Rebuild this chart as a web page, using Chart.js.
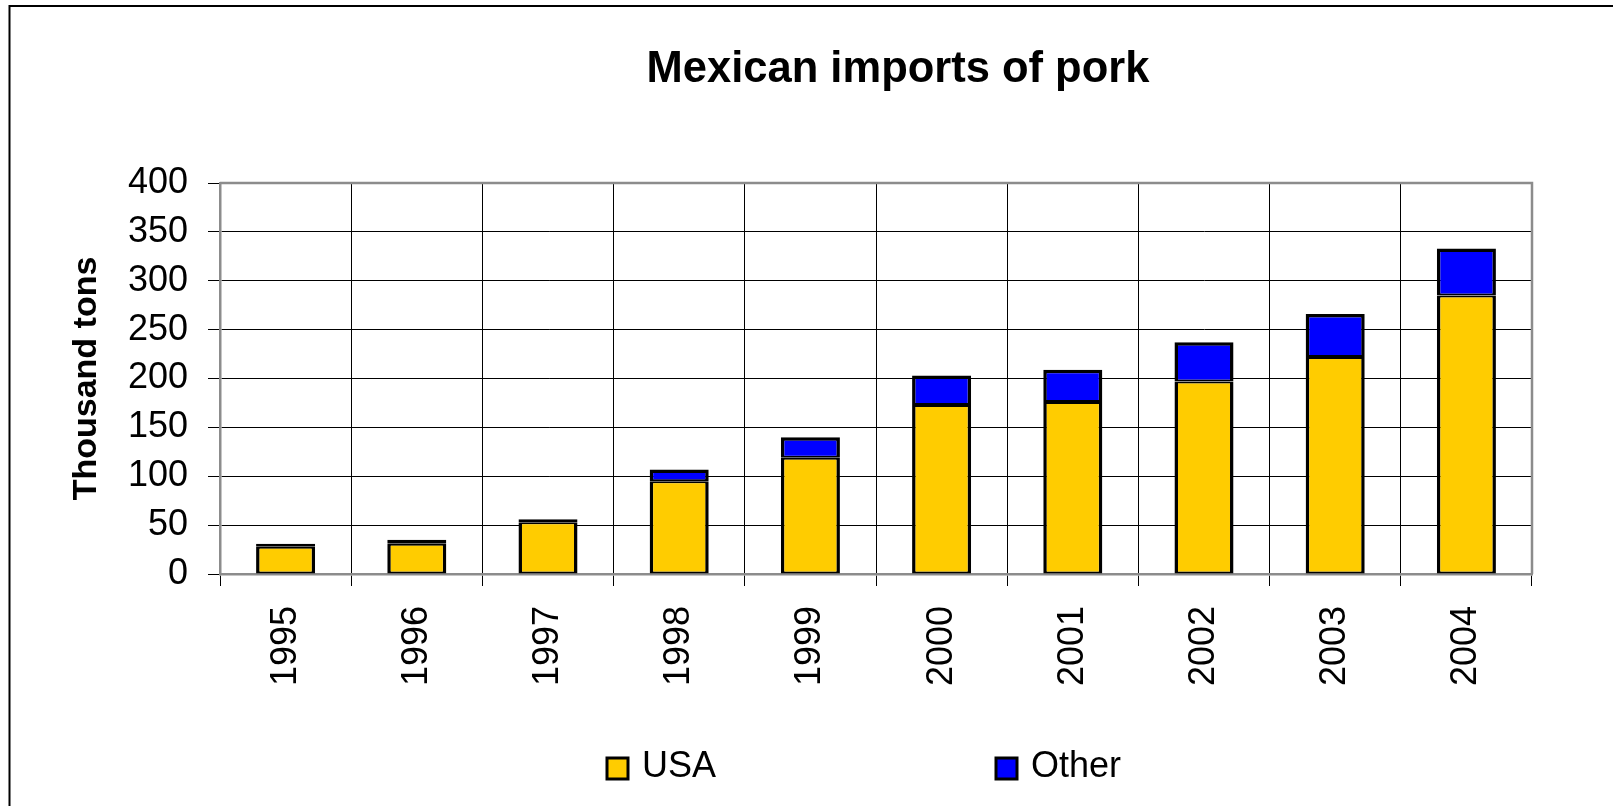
<!DOCTYPE html>
<html>
<head>
<meta charset="utf-8">
<script src="https://cdn.jsdelivr.net/npm/chart.js@4.4.1/dist/chart.umd.min.js"></script>
<style>
  html, body { margin: 0; padding: 0; background: #ffffff; }
  #wrap { width: 1613px; height: 806px; position: relative; }
  canvas { display: block; }
</style>
</head>
<body>
<div id="wrap"><canvas id="c" width="1613" height="806"></canvas></div>
<script>
// ---- data ----
const chartTitle = "Mexican imports of pork";
const yAxisTitle = "Thousand tons";
const years = ["1995", "1996", "1997", "1998", "1999", "2000", "2001", "2002", "2003", "2004"];
const seriesNames = ["USA", "Other"];
const usaValues   = [28, 31, 53, 95, 119, 173, 176, 197, 222, 285];
const otherValues = [3, 4, 3, 12, 21, 30, 33, 40, 44, 48];
const yTicks = [0, 50, 100, 150, 200, 250, 300, 350, 400];

const FONT = "'Liberation Sans', Arial, Helvetica, sans-serif";

const decorPlugin = {
  id: 'decor',
  beforeDraw(chart) {
    const ctx = chart.ctx;
    ctx.save();
    ctx.fillStyle = '#ffffff';
    ctx.fillRect(0, 0, chart.width, chart.height);
    ctx.restore();
  },
  afterDraw(chart) {
    const ctx = chart.ctx;
    const a = chart.chartArea;
    ctx.save();
    // outer page frame (top & left)
    ctx.strokeStyle = '#000000';
    ctx.lineWidth = 2;
    ctx.beginPath();
    ctx.moveTo(9.5, chart.height);
    ctx.lineTo(9.5, 6);
    ctx.lineTo(chart.width, 6);
    ctx.stroke();
    // plot-area frame top & right (gray)
    ctx.strokeStyle = '#8c8c8c';
    ctx.lineWidth = 2.5;
    ctx.beginPath();
    ctx.moveTo(a.left, a.top);
    ctx.lineTo(a.right, a.top);
    ctx.lineTo(a.right, a.bottom);
    ctx.stroke();
    // title
    ctx.fillStyle = '#000000';
    ctx.font = "bold 43.5px " + FONT;
    ctx.textAlign = 'center';
    ctx.textBaseline = 'alphabetic';
    ctx.fillText(chartTitle, 898, 82);
    // legend
    const legendX = [607, 996];
    ctx.font = "36px " + FONT;
    ctx.textAlign = 'left';
    chart.data.datasets.forEach((ds, i) => {
      const bx = legendX[i], by = 758;
      ctx.fillStyle = ds.backgroundColor;
      ctx.fillRect(bx, by, 21, 21);
      ctx.strokeStyle = '#000000';
      ctx.lineWidth = 3;
      ctx.strokeRect(bx, by, 21, 21);
      ctx.fillStyle = '#000000';
      ctx.fillText(ds.label, bx + 35, 777);
    });
    ctx.restore();
  }
};

new Chart(document.getElementById('c'), {
  type: 'bar',
  data: {
    labels: years,
    datasets: [
      {
        label: seriesNames[0],
        data: usaValues,
        backgroundColor: '#FFCC00',
        borderColor: '#000000',
        borderWidth: { left: 3.5, right: 3.5, top: 2, bottom: 2 },
        borderSkipped: false,
        inflateAmount: 0,
        barPercentage: 0.45,
        categoryPercentage: 1.0
      },
      {
        label: seriesNames[1],
        data: otherValues,
        backgroundColor: '#0000FF',
        borderColor: '#000000',
        borderWidth: { left: 3.5, right: 3.5, top: 3.5, bottom: 2 },
        borderSkipped: false,
        inflateAmount: 0,
        barPercentage: 0.45,
        categoryPercentage: 1.0
      }
    ]
  },
  options: {
    responsive: false,
    animation: false,
    devicePixelRatio: 1,
    layout: { padding: { left: 0, right: 81, top: 183, bottom: 0 } },
    plugins: {
      legend: { display: false },
      title: { display: false },
      tooltip: { enabled: false }
    },
    scales: {
      x: {
        stacked: true,
        offset: true,
        grid: {
          offset: true,
          color: '#000000',
          lineWidth: 1,
          drawTicks: true,
          tickLength: 12,
          tickColor: '#000000'
        },
        border: { display: true, color: '#8c8c8c', width: 2.5 },
        ticks: {
          autoSkip: false,
          maxRotation: 90,
          minRotation: 90,
          padding: 20,
          color: '#000000',
          font: { family: FONT, size: 36 }
        },
        afterFit(scale) { scale.height = 232; }
      },
      y: {
        stacked: true,
        min: 0,
        max: 400,
        afterBuildTicks(scale) { scale.ticks = yTicks.map(v => ({ value: v })); },
        grid: {
          color: '#000000',
          lineWidth: 1,
          drawTicks: true,
          tickLength: 12,
          tickColor: '#000000'
        },
        border: { display: true, color: '#8c8c8c', width: 2.5 },
        ticks: {
          padding: 20,
          color: '#000000',
          font: { family: FONT, size: 36 }
        },
        title: {
          display: true,
          text: yAxisTitle,
          color: '#000000',
          font: { family: FONT, size: 34, weight: 'bold' },
          padding: { top: 66, bottom: 0 }
        },
        afterFit(scale) { scale.width = 220; }
      }
    }
  },
  plugins: [decorPlugin]
});
</script>
</body>
</html>
